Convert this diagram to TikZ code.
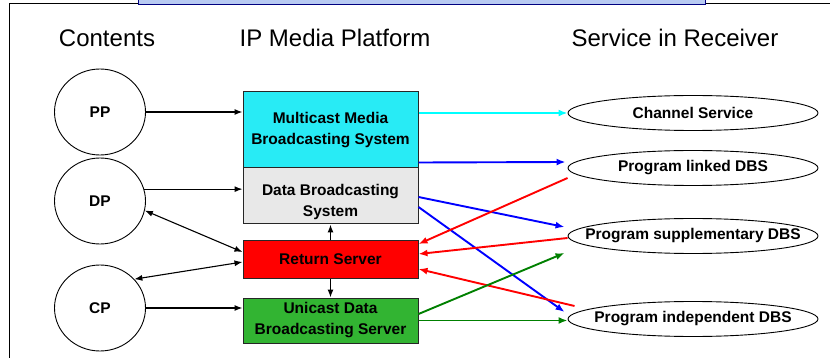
\documentclass[tikz,border=0pt]{standalone}
\usepackage{fontspec}
\setmainfont{Liberation Sans}
\usetikzlibrary{arrows.meta, positioning, shapes.geometric, calc}

\definecolor{titleblue}{RGB}{184,202,242}
\definecolor{mcyan}{RGB}{40,235,245}
\definecolor{lcyan}{RGB}{0,255,255}
\definecolor{lblue}{RGB}{0,0,255}
\definecolor{lred}{RGB}{255,0,0}
\definecolor{dgray}{RGB}{232,232,232}
\definecolor{ugreen}{RGB}{50,180,50}
\definecolor{lgreen}{RGB}{0,128,0}

\begin{document}
\begin{tikzpicture}[
  x=1pt, y=-1pt,
  content/.style={ellipse, draw, line width=0.9pt, minimum width=91pt, minimum height=86pt, inner sep=0pt, font=\fontsize{15.5}{18}\selectfont\bfseries},
  platform/.style={rectangle, draw=black!85, line width=1pt, minimum width=175pt, inner sep=0pt, align=center, font=\fontsize{15.5}{21}\selectfont\bfseries},
  service/.style={ellipse, draw, line width=0.9pt, minimum width=250pt, minimum height=35pt, inner sep=0pt, font=\fontsize{15.5}{18}\selectfont\bfseries},
  head/.style={anchor=base, font=\fontsize{24}{28}\selectfont},
  edge/.style={-{Latex[length=8pt, width=6pt]}, line width=1.1pt},
  twoway/.style={{Latex[length=8pt, width=6pt]}-{Latex[length=8pt, width=6pt]}, line width=1.1pt},
  link/.style={-{Latex[length=9pt, width=7pt]}, line width=1.9pt}
]
\useasboundingbox (0,0) rectangle (830,358);

% frame and title bar
\draw[line width=1pt] (9,358) -- (9,4) -- (830,4);
\draw[fill=titleblue, draw=blue!50!black, line width=0.8pt] (138,-2) rectangle (705,4);

% headings
\node[head] (hcont) at (107,47) {Contents};
\node[head] (hplat) at (335,47) {IP Media Platform};
\node[head] (hserv) at (675,47) {Service in Receiver};

% contents
\node[content] (pp) at (100,112) {PP};
\node[content] (dp) at (100,201) {DP};
\node[content] (cp) at (100,308) {CP};

% platform
\node[platform, fill=mcyan, minimum height=76pt] (mmbs) at (330.5,130) {Multicast Media\\Broadcasting System};
\node[platform, fill=dgray, minimum height=56pt] (dbs) at (330.5,196) {\rule{0pt}{24pt}Data Broadcasting\\System};
\node[platform, fill=lred, minimum height=37pt] (rs) at (330.5,259.5) {Return Server};
\node[platform, fill=ugreen, minimum height=45pt] (udbs) at (330.5,320.5) {Unicast Data\\Broadcasting Server};

% services
\node[service] (cs) at (693,113) {\makebox[0pt]{Channel Service}};
\node[service] (pl) at (693,168) {\makebox[0pt]{Program linked DBS}};
\node[service] (ps) at (693,236) {\makebox[0pt]{Program supplementary DBS}};
\node[service] (pi) at (693,319) {\makebox[0pt]{Program independent DBS}};

% contents to platform
\draw[edge] (pp.east) -- (pp.east -| mmbs.west);
\draw[edge] (dp.15) -- (dp.15 -| dbs.west);
\draw[twoway] (dp.-12) -- ($(rs.west)+(0,-7.5)$);
\draw[twoway] (cp.40) -- ($(rs.west)+(0,2.5)$);
\draw[edge] (cp.east) -- (cp.east -| udbs.west);
\draw[edge] (rs.north) -- (dbs.south);
\draw[edge] (rs.south) -- (udbs.north);

% platform to services
\draw[link, lcyan] (cs -| mmbs.east) -- (cs.west);
\draw[link, lblue] ($(mmbs.south east)+(0,-6)$) -- ($(pl.west)+(-2,-6)$);
\draw[link, lblue] ($(dbs.east)+(0,1)$) -- ($(ps.west)+(-3,-9)$);
\draw[link, lblue] ($(dbs.east)+(0,11)$) -- ($(pi.west)+(-3,-7)$);
\draw[link, lred] ($(pl.west)+(0,10)$) -- ($(rs.east)+(0,-15.5)$);
\draw[link, lred] ($(ps.west)+(0,2)$) -- ($(rs.east)+(0,-5.5)$);
\draw[link, lred] ($(pi.west)+(7,-13)$) -- ($(rs.east)+(0,9.5)$);
\draw[link, lgreen] ($(udbs.east)+(0,-6.5)$) -- ($(ps.west)+(-3,17)$);
\draw[link, lgreen] (udbs.east) -- (udbs.east -| pi.west);
\end{tikzpicture}
\end{document}
